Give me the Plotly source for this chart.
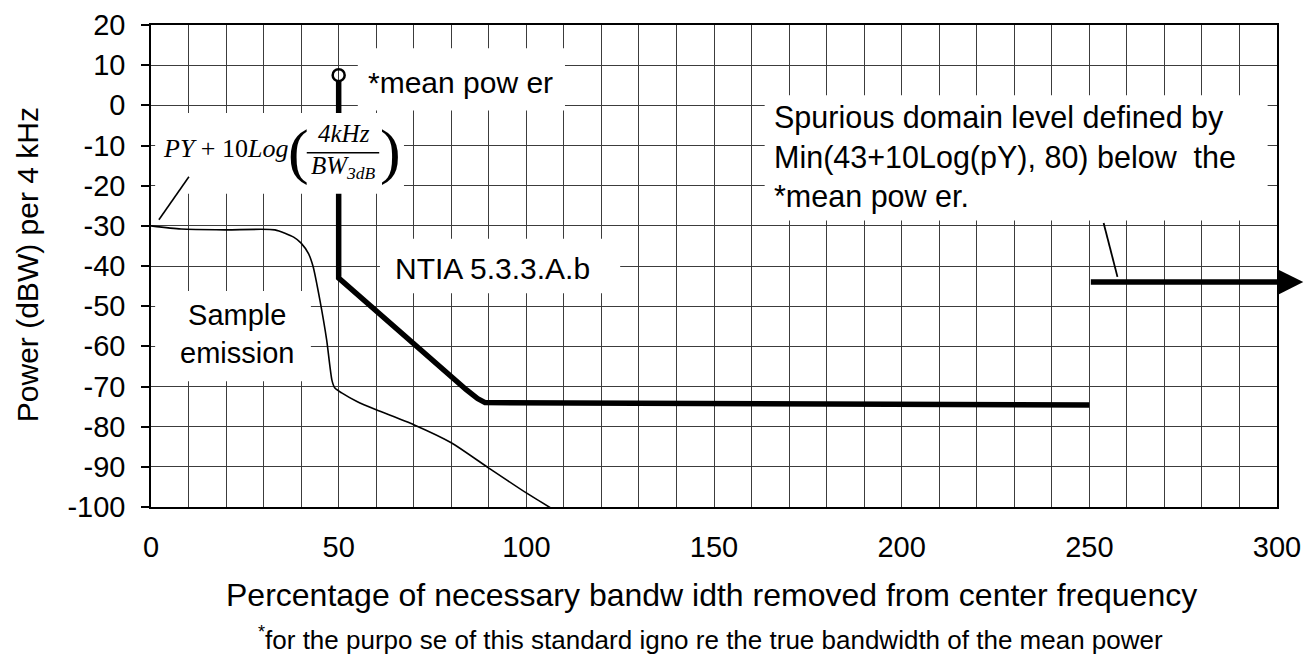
import plotly.graph_objects as go

# ---------------- data ----------------
emission_x = [0, 8, 20, 33, 38, 40, 42, 43.2, 45, 46.8, 48.2, 49, 50.8, 55, 60, 70, 80, 90, 100, 110.5]
emission_y = [-30, -30.8, -31, -31, -32.8, -34.3, -37, -40.2, -48.5, -58.4, -68.4, -70.4, -71.6, -73.8, -75.8, -79.5, -84, -90.3, -96.5, -102.5]

ntia_x = [50, 50, 84, 87, 89, 250]
ntia_y = [6.0, -43, -70.8, -73, -74, -74.6]

mean_power_x = [50]
mean_power_y = [7.5]

spurious_x = [250, 307]
spurious_y = [-44, -44]

x_tick_vals = [0, 50, 100, 150, 200, 250, 300]
y_tick_vals = [20, 10, 0, -10, -20, -30, -40, -50, -60, -70, -80, -90, -100]
y_tick_text = ["20", "10", "0", "-10", "-20", "-30", "-40", "-50", "-60", "-70", "-80", "-90", "-100"]

SANS = "Liberation Sans, Arial, sans-serif"
SERIF = "Liberation Serif, Times New Roman, serif"

fig = go.Figure()

fig.add_trace(go.Scatter(x=emission_x, y=emission_y, mode="lines",
                         line=dict(color="black", width=1.6, shape="spline", smoothing=0.6),
                         showlegend=False, hoverinfo="skip"))
fig.add_trace(go.Scatter(x=ntia_x, y=ntia_y, mode="lines",
                         line=dict(color="black", width=5.5),
                         showlegend=False, hoverinfo="skip"))
fig.add_trace(go.Scatter(x=mean_power_x, y=mean_power_y, mode="markers",
                         marker=dict(symbol="circle-open", size=12, color="black",
                                     line=dict(width=2.5, color="black")),
                         showlegend=False, hoverinfo="skip"))

# white label boxes (hide the grid behind the texts)
boxes = [
    (55.1, 110.3, 14.2, -1.3),     # *mean power
    (1.1, 67.4, -1.9, -22.0),      # formula
    (61.0, 125.0, -33.2, -46.8),   # NTIA
    (1.1, 42.6, -46.2, -68.7),     # Sample emission
    (163.5, 297.5, 2.5, -28.7),    # spurious text
]
for x0, x1, y0, y1 in boxes:
    fig.add_shape(type="rect", xref="x", yref="y", x0=x0, x1=x1, y0=y0, y1=y1,
                  fillcolor="white", line=dict(width=0), layer="above")

# pointer lines
fig.add_shape(type="line", xref="x", yref="y", x0=10.1, y0=-17.8, x1=2.1, y1=-28.5,
              line=dict(color="black", width=1.6), layer="above")
fig.add_shape(type="line", xref="x", yref="y", x0=253.8, y0=-29.3, x1=257.5, y1=-42.7,
              line=dict(color="black", width=1.8), layer="above")

# spurious domain arrow
fig.add_annotation(x=spurious_x[1], y=spurious_y[1], ax=spurious_x[0], ay=spurious_y[0],
                   xref="x", yref="y", axref="x", ayref="y", text="",
                   showarrow=True, arrowhead=2, arrowsize=0.9, arrowwidth=5.5, arrowcolor="black")

ann_font = dict(family=SANS, size=29, color="black")
fig.add_annotation(x=57.3, y=5.7, xref="x", yref="y", text="*mean pow er", showarrow=False,
                   xanchor="left", yanchor="middle", font=dict(family=SANS, size=30, color="black"))
fig.add_annotation(x=91.1, y=-40.5, xref="x", yref="y", text="NTIA 5.3.3.A.b", showarrow=False,
                   xanchor="center", yanchor="middle", font=dict(family=SANS, size=30, color="black"))
fig.add_annotation(x=23.0, y=-56.9, xref="x", yref="y", text="Sample<br>emission", showarrow=False,
                   xanchor="center", yanchor="middle", align="center", font=ann_font)
fig.add_annotation(x=165.5, y=-12.8, xref="x", yref="y",
                   text="Spurious domain level defined by<br>Min(43+10Log(pY), 80) below  the<br>*mean pow er.",
                   showarrow=False, xanchor="left", yanchor="middle", align="left",
                   font=dict(family=SANS, size=30.5, color="black"))

# formula  PY + 10Log( 4kHz / BW3dB )
fig.add_annotation(x=2.6, y=-10.8, xref="x", yref="y", text="<i>PY</i> + 10<i>Log</i>",
                   showarrow=False, xanchor="left", yanchor="middle",
                   font=dict(family=SERIF, size=26, color="black"))
fig.add_annotation(x=39.2, y=-11.5, xref="x", yref="y", text="(", showarrow=False,
                   xanchor="center", yanchor="middle", font=dict(family=SERIF, size=62, color="black"))
fig.add_annotation(x=63.8, y=-11.5, xref="x", yref="y", text=")", showarrow=False,
                   xanchor="center", yanchor="middle", font=dict(family=SERIF, size=62, color="black"))
fig.add_annotation(x=51.3, y=-7.0, xref="x", yref="y", text="<i>4kHz</i>", showarrow=False,
                   xanchor="center", yanchor="middle", font=dict(family=SERIF, size=25, color="black"))
fig.add_annotation(x=51.3, y=-15.5, xref="x", yref="y", text="<i>BW</i><sub><i>3dB</i></sub>",
                   showarrow=False, xanchor="center", yanchor="middle",
                   font=dict(family=SERIF, size=25, color="black"))
fig.add_shape(type="line", xref="x", yref="y", x0=41.5, x1=60.8, y0=-11.8, y1=-11.8,
              line=dict(color="black", width=1.5), layer="above")

# axis titles and footnote
fig.add_annotation(x=0.498, y=-0.183, xref="paper", yref="paper",
                   text="Percentage of necessary bandw idth removed from center frequency",
                   showarrow=False, xanchor="center", yanchor="middle",
                   font=dict(family=SANS, size=32, color="black"))
fig.add_annotation(x=0.497, y=-0.272, xref="paper", yref="paper",
                   text="<sup>*</sup>for the purpo se of this standard igno re the true bandwidth of the mean power",
                   showarrow=False, xanchor="center", yanchor="middle",
                   font=dict(family=SANS, size=26, color="black"))
fig.add_annotation(x=-0.110, y=0.502, xref="paper", yref="paper", text="Power (dBW) per 4 kHz",
                   textangle=-90, showarrow=False, xanchor="center", yanchor="middle",
                   font=dict(family=SANS, size=30, color="black"))

grid_col = "#3c3c3c"
fig.update_xaxes(range=[0, 300], tickvals=x_tick_vals, ticks="", showgrid=True,
                 gridcolor=grid_col, gridwidth=1,
                 minor=dict(dtick=10, showgrid=True, gridcolor=grid_col, gridwidth=1),
                 showline=True, linecolor="black", linewidth=1.5, mirror=True,
                 zeroline=False, ticklabelstandoff=13, automargin=False,
                 tickfont=dict(family=SANS, size=29, color="black"))
fig.update_yaxes(range=[-100, 20], tickvals=y_tick_vals, ticktext=y_tick_text,
                 ticks="outside", ticklen=8, tickcolor="black", tickwidth=1.5,
                 showgrid=True, gridcolor=grid_col, gridwidth=1,
                 showline=True, linecolor="black", linewidth=1.5, mirror=True,
                 zeroline=False, ticklabelstandoff=10, automargin=False,
                 tickfont=dict(family=SANS, size=29, color="black"))

fig.update_layout(width=1308, height=655, margin=dict(l=151, r=31, t=25, b=148),
                  plot_bgcolor="white", paper_bgcolor="white")

fig.write_html("out.html", config={"displayModeBar": False},
               post_script="document.body.style.margin='0';document.body.style.overflow='hidden';")
